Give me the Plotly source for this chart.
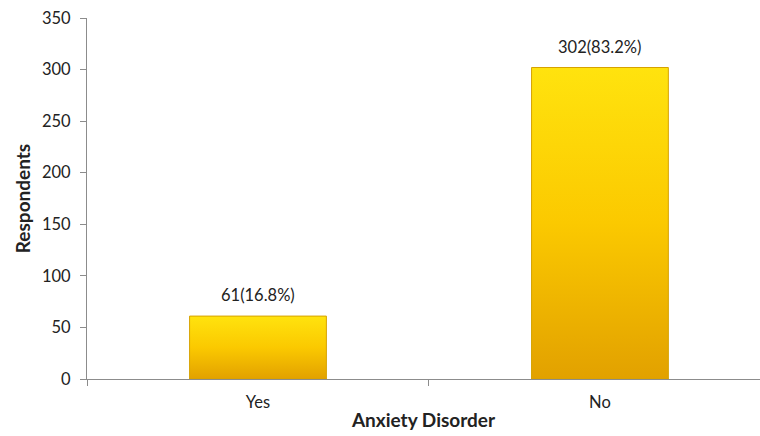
import plotly.graph_objects as go

categories = ["Yes", "No"]
counts = [61, 302]
percents = [16.8, 83.2]
y_ticks = [0, 50, 100, 150, 200, 250, 300, 350]

FONT = "Lato, Open Sans, sans-serif"
bar_half = 0.2
fig = go.Figure()
for i, (cat, v) in enumerate(zip(categories, counts)):
    xs = [i - bar_half, i - bar_half, i + bar_half, i + bar_half, i - bar_half]
    ys = [0, v, v, 0, 0]
    fig.add_trace(go.Scatter(
        x=xs, y=ys, mode="lines", fill="toself",
        fillgradient=dict(type="vertical",
                          colorscale=[[0, "#E2A100"], [0.5, "#FBC900"], [1, "#FFE30E"]]),
        line=dict(color="#D6A200", width=1),
        hoverinfo="skip", showlegend=False,
    ))

for i, (c, p) in enumerate(zip(counts, percents)):
    fig.add_annotation(
        x=i, y=c, text=f"{c}({p}%)", showarrow=False,
        yanchor="bottom", yshift=9,
        font=dict(family=FONT, size=16.5, color="#222"),
    )

fig.update_layout(
    width=760, height=436,
    margin=dict(l=87, r=0, t=18, b=57),
    paper_bgcolor="white", plot_bgcolor="white",
    font=dict(family=FONT, size=16.5, color="#222"),
    xaxis=dict(
        range=[-0.5, 1.468],
        tickmode="array", tickvals=list(range(len(categories))), ticktext=categories,
        ticks="", showgrid=False, zeroline=False,
        showline=True, linecolor="#8c8c8c", linewidth=1,
        ticklabelstandoff=8,
        minor=dict(tickmode="array", tickvals=[-0.5, 0.5, 1.5], ticks="outside",
                   ticklen=6, tickcolor="#8c8c8c", showgrid=False),
        title=dict(text="<b>Anxiety Disorder</b>", font=dict(size=19), standoff=2),
    ),
    yaxis=dict(
        range=[0, 350], tickmode="array", tickvals=y_ticks,
        ticks="outside", ticklen=6, tickcolor="#8c8c8c",
        showgrid=False, zeroline=False,
        showline=True, linecolor="#8c8c8c", linewidth=1,
        ticklabelstandoff=6,
        title=dict(text="<b>Respondents</b>", font=dict(size=19), standoff=6),
    ),
)

fig.write_html("out.html")
